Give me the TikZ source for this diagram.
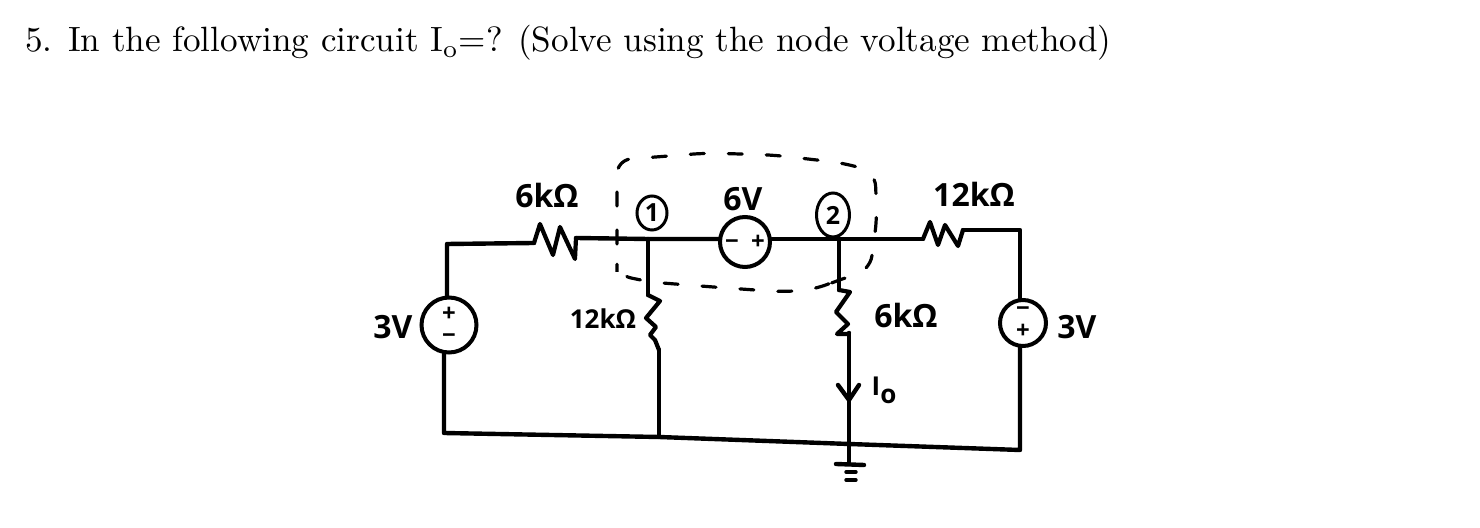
\documentclass[tikz,border=0pt]{standalone}
\usepackage{fontspec}
\usepackage{graphicx}
\newfontfamily\hand{Open Sans}
\usetikzlibrary{calc,shapes.geometric}
\tikzset{
  wire/.style={line width=2.2pt,line cap=round,line join=round,black},
  rwire/.style={line width=2.1pt,line cap=round,line join=round,black},
  loopline/.style={line width=1.6pt,line cap=round,dash pattern=on 7pt off 12pt,black},
  source/.style={circle,draw,line width=2pt,minimum size=25.5pt,inner sep=0pt,align=center,font=\hand\fontsize{12}{11}\selectfont\bfseries},
  tag/.style={font=\hand\fontsize{16}{18}\selectfont\bfseries,inner sep=0pt},
  nodetag/.style={ellipse,draw,line width=1.5pt,inner sep=0pt,font=\hand\fontsize{12.5}{13}\selectfont\bfseries}
}
\begin{document}
\begin{tikzpicture}[x=0.5pt,y=-0.5pt]
\path[fill=white,use as bounding box] (0,0) rectangle (1480,528);
\node[anchor=base west,inner sep=0pt] (title) at (25,52) {\scalebox{1.756}{\fontsize{10}{12}\selectfont 5. In the following circuit I$_{\mathrm o}$=? (Solve using the node voltage method)}};
% sources
\node[source,minimum size=27.5pt] (vone) at (449,325) {+\\−};
\node[source,minimum size=25pt] (vmid) at (745,242) {−\ \ +};
\node[source,minimum size=23pt] (vtwo) at (1023,323) {−\\+};
% junctions and ends
\coordinate (cA) at (447,244);
\coordinate (rAa) at (534,243);
\coordinate (rAb) at (576,238);
\coordinate (nA) at (648,239);
\coordinate (nB) at (839,239);
\coordinate (rBa) at (923,239);
\coordinate (rBb) at (963,230);
\coordinate (cB) at (1020,230);
\coordinate (rCa) at (648,295);
\coordinate (rCb) at (659,350);
\coordinate (rDa) at (839,290);
\coordinate (rDb) at (849,333);
\coordinate (bL) at (444,433);
\coordinate (bA) at (659,437);
\coordinate (bB) at (849,444);
\coordinate (bR) at (1020,450);
\coordinate (gnd) at (849,463);
\coordinate (tip) at (849,400);
% wires
\draw[wire] (vone.north -| cA) -- (cA) -- (rAa);
\draw[wire] (rAb) -- (nA) -- (vmid.west |- nA);
\draw[wire] (vmid.east |- nB) -- (nB) -- (rBa);
\draw[wire] (rBb) -- (cB) -- (vtwo.north -| cB);
\draw[wire] (nA) -- (rCa);
\draw[wire] (nB) -- (rDa);
\draw[wire] (rCb) -- (bA);
\draw[wire] (rDb) -- (bB);
\draw[wire] (vone.south -| bL) -- (bL) -- (bA) -- (bB) -- (bR) -- (vtwo.south -| bR);
% resistors
\draw[rwire] (rAa) -- ++(6,-19) -- ++(13,31) -- ++(7,-28) -- ++(15,32) -- (rAb);
\draw[rwire] (rBa) -- ++(7,-17) -- ++(8,23) -- ++(7,-20) -- ++(13,21) -- (rBb);
\draw[rwire] (rCa) -- ++(12,6) -- ++(-14,17) -- ++(10,9) -- ++(-6,8) -- ++(5,5) -- (rCb);
\draw[rwire] (rDa) -- ++(11,2) -- ++(-14,20) -- ++(12,12) -- ++(-11,10) -- ++(11,0) -- (rDb);
% current arrow
\draw[wire] ($(tip)+(-11,-15)$) -- (tip) -- ($(tip)+(10,-15)$);
% ground
\draw[wire] (bB) -- (gnd);
\draw[wire] ($(gnd)+(-13,1)$) -- ($(gnd)+(15,2)$);
\draw[wire,line width=1.7pt] ($(gnd)+(-3,9)$) -- ($(gnd)+(7,9)$);
\draw[wire,line width=1.7pt] ($(gnd)+(-3,17)$) -- ($(gnd)+(7,17)$);
% dashed supernode loop
\draw[loopline,rounded corners=7pt] (617,258) -- (617,160) -- (707,153) -- (773,155) -- (843,163) -- (875,172) -- (877,218) -- (870,270) -- (833,282) -- (817,289) -- (783,292) -- (713,287) -- (650,282) -- (617,275) -- cycle;
% labels
\node[tag] (lA) at (547,196) {6kΩ};
\node[tag] (lB) at (974,194) {12kΩ};
\node[tag,font=\hand\fontsize{13}{15}\selectfont\bfseries] (lC) at (603,319) {12kΩ};
\node[tag] (lD) at (906,316) {6kΩ};
\node[tag] (lE) at (743,199) {6V};
\node[tag] (lF) at (393,327) {3V};
\node[tag] (lG) at (1077,327) {3V};
\node[tag,font=\hand\fontsize{13}{15}\selectfont\bfseries] (lH) at (884,390) {I\raisebox{-4pt}{o}};
\node[nodetag,minimum width=15pt,minimum height=17pt] (tA) at (652,213) {1};
\node[nodetag,minimum width=16.5pt,minimum height=22pt] (tB) at (833,215) {2};
\end{tikzpicture}
\end{document}
